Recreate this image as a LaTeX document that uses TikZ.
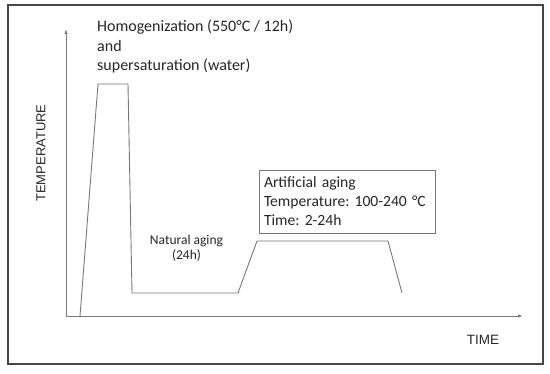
\documentclass[tikz,border=0pt]{standalone}
\usepackage{fontspec}
\setmainfont{Carlito}
\newfontfamily\axisfont{Liberation Sans}
\usetikzlibrary{arrows.meta}
\definecolor{linegray}{RGB}{120,120,120}
\definecolor{framegray}{RGB}{70,70,70}
\tikzset{
curve/.style = {linegray, line width = 0.9pt, line join = miter},
axis/.style = {linegray, line width = 0.9pt, -{Latex[length = 5pt, width = 3.5pt]}},
label/.style = {inner sep = 0pt, text = black!85}
}
\frenchspacing
\begin{document}
\begin{tikzpicture}[x = 1pt, y = -1pt]
\useasboundingbox (0,0) rectangle (550,374);
\draw [framegray, line width = 1.3pt] (8,5) rectangle (543,364);
\coordinate (origin) at (66,316);
\coordinate (ytop) at (66,29);
\coordinate (xend) at (523,316);
\draw [axis] (origin) -- (ytop);
\draw [axis] (origin) -- (xend);
\node [label, rotate = 90, font = \axisfont\fontsize{13}{15}\selectfont] (ylab) at (41,153) {TEMPERATURE};
\node [label, font = \axisfont\fontsize{13.5}{15}\selectfont] (xlab) at (483,340) {TIME};
\coordinate (p0) at (80,316);
\coordinate (p1) at (98,84);
\coordinate (p2) at (128,84);
\coordinate (p3) at (132,293);
\coordinate (p4) at (238,293);
\coordinate (p5) at (257,241);
\coordinate (p6) at (388,241);
\coordinate (p7) at (402,293);
\draw [curve] (p0) -- (p1) -- (p2) -- (p3) -- (p4) -- (p5) -- (p6) -- (p7);
% base = last line
\node [label, anchor = base west, align = left, font = \fontsize{16}{19.5}\selectfont] (homog) at (97,71) {Homogenization (550°C / 12h)\\and\\supersaturation (water)};
\node [label, anchor = base, align = center, font = \fontsize{13.5}{15}\selectfont] (natural) at (186.5,260) {Natural aging\\(24h)};
\node [draw = linegray, line width = 0.9pt, text = black!85, minimum width = 176pt, minimum height = 63pt, inner sep = 5pt, text width = 166pt, align = left, font = \fontsize{15.6}{19}\selectfont] (artbox) at (347,201.5) {Artificial aging\\Temperature: 100-240 °C\\Time: 2-24h};
\end{tikzpicture}
\end{document}
